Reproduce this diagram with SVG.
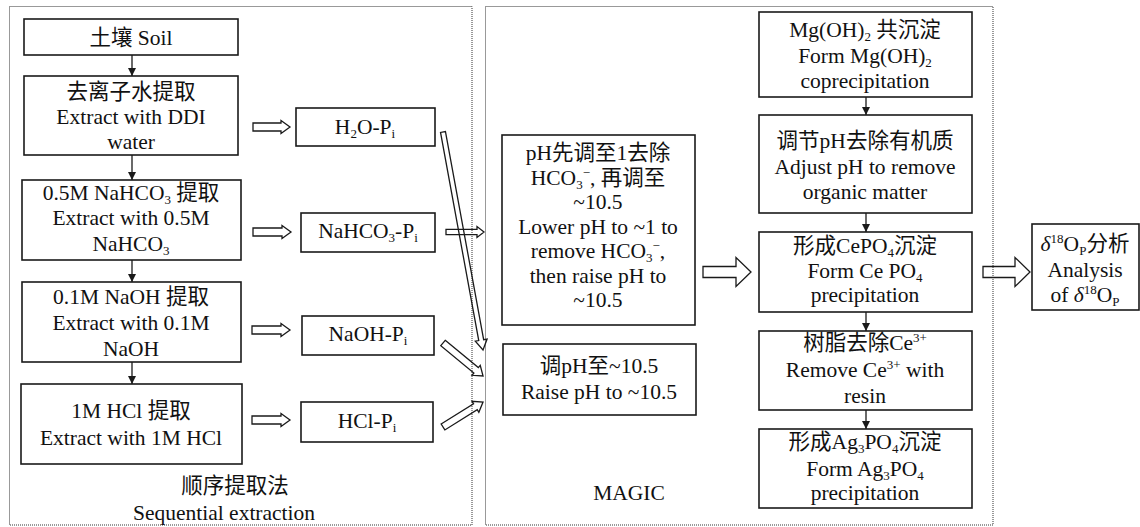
<svg xmlns="http://www.w3.org/2000/svg" width="1140" height="527" viewBox="0 0 1140 527">
<style>
.box{fill:#fff;stroke:#1a1a1a;stroke-width:1.6}
.frame{fill:none;stroke:#333;stroke-width:1;stroke-dasharray:1 1}
.t{font-family:"Liberation Serif","Noto Sans CJK SC",serif;font-size:21.5px;text-anchor:middle;fill:#111}
.s{font-size:13px}
.hollow{fill:none;stroke:#1a1a1a;stroke-width:1.3;stroke-linejoin:miter}
.ln{stroke:#1a1a1a;stroke-width:1.3;fill:none}
</style>
<defs>
<marker id="ah" markerUnits="userSpaceOnUse" markerWidth="8" markerHeight="8" viewBox="0 0 8 8" refX="8" refY="4" orient="auto">
<path d="M0,0 L8,4 L0,8 z" fill="#1a1a1a"/>
</marker>
</defs>
<rect class="box" x="0" y="0" width="1140" height="527" style="stroke:none"/>

<g id="frames">
<rect class="frame" x="9.5" y="6.5" width="462.5" height="518.5"/>
<rect class="frame" x="485.5" y="6.5" width="507.5" height="518.5"/>
<text class="t" x="235" y="493">顺序提取法</text>
<text class="t" x="224" y="520">Sequential extraction</text>
<text class="t" x="629" y="500">MAGIC</text>
</g>

<g id="soil">
<rect class="box" x="24" y="19" width="214" height="36"/>
<text class="t" x="131" y="45">土壤 Soil</text>
</g>
<g id="ddi">
<rect class="box" x="24" y="76" width="214" height="79"/>
<text class="t" x="131" y="99">去离子水提取</text>
<text class="t" x="131" y="124">Extract with DDI</text>
<text class="t" x="131" y="149">water</text>
</g>
<g id="nahco3">
<rect class="box" x="22" y="180" width="219" height="80"/>
<text class="t" x="131" y="200">0.5M NaHCO<tspan class="s" dy="4">3</tspan><tspan dy="-4"> 提取</tspan></text>
<text class="t" x="131" y="225">Extract with 0.5M</text>
<text class="t" x="131" y="251">NaHCO<tspan class="s" dy="4">3</tspan></text>
</g>
<g id="naoh">
<rect class="box" x="22" y="282" width="219" height="80"/>
<text class="t" x="131" y="304">0.1M NaOH 提取</text>
<text class="t" x="131" y="330">Extract with 0.1M</text>
<text class="t" x="131" y="356">NaOH</text>
</g>
<g id="hcl">
<rect class="box" x="21" y="384" width="221" height="80"/>
<text class="t" x="131" y="418">1M HCl 提取</text>
<text class="t" x="131" y="445">Extract with 1M HCl</text>
</g>

<g id="h2o-pi">
<rect class="box" x="296" y="108" width="139" height="38"/>
<text class="t" x="365" y="134">H<tspan class="s" dy="4">2</tspan><tspan dy="-4">O-P</tspan><tspan class="s" dy="4">i</tspan></text>
</g>
<g id="nahco3-pi">
<rect class="box" x="301" y="213" width="134" height="39"/>
<text class="t" x="368" y="238">NaHCO<tspan class="s" dy="4">3</tspan><tspan dy="-4">-P</tspan><tspan class="s" dy="4">i</tspan></text>
</g>
<g id="naoh-pi">
<rect class="box" x="302" y="316" width="132" height="39"/>
<text class="t" x="368" y="341">NaOH-P<tspan class="s" dy="4">i</tspan></text>
</g>
<g id="hcl-pi">
<rect class="box" x="301" y="402" width="132" height="40"/>
<text class="t" x="367" y="428">HCl-P<tspan class="s" dy="4">i</tspan></text>
</g>

<g id="magic-acid">
<rect class="box" x="502" y="135" width="193" height="190"/>
<text class="t" x="598" y="160">pH先调至1去除</text>
<text class="t" x="598" y="184.5">HCO<tspan class="s" dy="4">3</tspan><tspan class="s" dy="-12">−</tspan><tspan dy="8">, 再调至</tspan></text>
<text class="t" x="598" y="209">~10.5</text>
<text class="t" x="598" y="233.5">Lower pH to ~1 to</text>
<text class="t" x="598" y="258">remove HCO<tspan class="s" dy="4">3</tspan><tspan class="s" dy="-12">−</tspan><tspan dy="8">,</tspan></text>
<text class="t" x="598" y="282.5">then raise pH to</text>
<text class="t" x="598" y="307">~10.5</text>
</g>
<g id="magic-raise">
<rect class="box" x="503" y="344" width="193" height="71"/>
<text class="t" x="599" y="373">调pH至~10.5</text>
<text class="t" x="599" y="399">Raise pH to ~10.5</text>
</g>

<g id="mg">
<rect class="box" x="759" y="12" width="213" height="85"/>
<text class="t" x="865" y="37">Mg(OH)<tspan class="s" dy="4">2</tspan><tspan dy="-4"> 共沉淀</tspan></text>
<text class="t" x="865" y="63">Form Mg(OH)<tspan class="s" dy="4">2</tspan></text>
<text class="t" x="865" y="88">coprecipitation</text>
</g>
<g id="adjust">
<rect class="box" x="759" y="115" width="213" height="98"/>
<text class="t" x="865" y="148">调节pH去除有机质</text>
<text class="t" x="865" y="174">Adjust pH to remove</text>
<text class="t" x="865" y="199">organic matter</text>
</g>
<g id="cepo4">
<rect class="box" x="759" y="232" width="213" height="80"/>
<text class="t" x="865" y="253">形成CePO<tspan class="s" dy="4">4</tspan><tspan dy="-4">沉淀</tspan></text>
<text class="t" x="865" y="278">Form Ce PO<tspan class="s" dy="4">4</tspan></text>
<text class="t" x="865" y="302">precipitation</text>
</g>
<g id="resin">
<rect class="box" x="759" y="331" width="213" height="79"/>
<text class="t" x="865" y="350">树脂去除Ce<tspan class="s" dy="-8">3+</tspan></text>
<text class="t" x="865" y="377">Remove Ce<tspan class="s" dy="-8">3+</tspan><tspan dy="8"> with</tspan></text>
<text class="t" x="865" y="403">resin</text>
</g>
<g id="ag3po4">
<rect class="box" x="759" y="429" width="213" height="79"/>
<text class="t" x="865" y="449">形成Ag<tspan class="s" dy="4">3</tspan><tspan dy="-4">PO</tspan><tspan class="s" dy="4">4</tspan><tspan dy="-4">沉淀</tspan></text>
<text class="t" x="865" y="476">Form Ag<tspan class="s" dy="4">3</tspan><tspan dy="-4">PO</tspan><tspan class="s" dy="4">4</tspan></text>
<text class="t" x="865" y="500">precipitation</text>
</g>
<g id="result">
<rect class="box" x="1032" y="224" width="107" height="86"/>
<text class="t" x="1085" y="251"><tspan font-style="italic">δ</tspan><tspan class="s" dy="-8">18</tspan><tspan dy="8">O</tspan><tspan class="s" dy="4">P</tspan><tspan dy="-4">分析</tspan></text>
<text class="t" x="1085" y="277">Analysis</text>
<text class="t" x="1085" y="302">of <tspan font-style="italic">δ</tspan><tspan class="s" dy="-8">18</tspan><tspan dy="8">O</tspan><tspan class="s" dy="4">P</tspan></text>
</g>

<g id="connectors">
<line class="ln" x1="132" y1="55" x2="132" y2="76" marker-end="url(#ah)"/>
<line class="ln" x1="132" y1="155" x2="132" y2="180" marker-end="url(#ah)"/>
<line class="ln" x1="132" y1="260" x2="132" y2="282" marker-end="url(#ah)"/>
<line class="ln" x1="132" y1="362" x2="132" y2="384" marker-end="url(#ah)"/>
<line class="ln" x1="866" y1="97" x2="866" y2="115" marker-end="url(#ah)"/>
<line class="ln" x1="866" y1="213" x2="866" y2="232" marker-end="url(#ah)"/>
<line class="ln" x1="866" y1="312" x2="866" y2="331" marker-end="url(#ah)"/>
<line class="ln" x1="866" y1="410" x2="866" y2="429" marker-end="url(#ah)"/>

<polygon class="hollow" points="253,123 281,123 281,120.5 290,127 281,133.5 281,131 253,131"/>
<polygon class="hollow" points="253,228 282,228 282,225.5 291,232 282,238.5 282,236 253,236"/>
<polygon class="hollow" points="252,326 281,326 281,323.5 290,330 281,336.5 281,334 252,334"/>
<polygon class="hollow" points="252,416 281,416 281,413.5 290,420 281,426.5 281,424 252,424"/>

<polygon class="hollow" points="446,229.3 477,229.3 477,226.5 484,232 477,237.5 477,234.7 446,234.7"/>
<polygon class="hollow" transform="translate(443,132) rotate(79.6)" points="0,-2.5 211.6,-2.5 211.6,-6 221.6,0 211.6,6 211.6,2.5 0,2.5"/>
<polygon class="hollow" transform="translate(443,343) rotate(39.5)" points="0,-3.5 42.9,-3.5 42.9,-6.5 51.9,0 42.9,6.5 42.9,3.5 0,3.5"/>
<polygon class="hollow" transform="translate(443,427) rotate(-32)" points="0,-3.5 38.2,-3.5 38.2,-6.5 47.2,0 38.2,6.5 38.2,3.5 0,3.5"/>

<polygon class="hollow" points="703,266.5 736,266.5 736,257.5 751,272 736,286.5 736,277.5 703,277.5"/>
<polygon class="hollow" points="983,266.5 1015,266.5 1015,257.5 1030,272 1015,286.5 1015,277.5 983,277.5"/>
</g>
</svg>
